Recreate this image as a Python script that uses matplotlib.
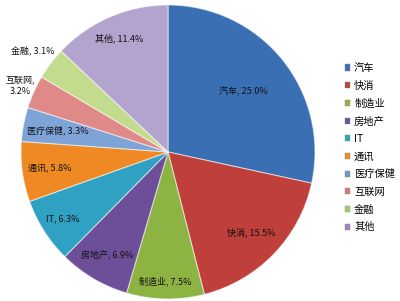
"""
Pie chart of industry shares (Excel-style), with a legend on the right.
"""
import matplotlib
matplotlib.use('Agg')
import matplotlib.pyplot as plt
from matplotlib.patches import Patch
import numpy as np

plt.rcParams['font.family'] = ['Noto Sans CJK SC', 'DejaVu Sans']

categories = ['汽车', '快消', '制造业', '房地产', 'IT', '通讯',
              '医疗保健', '互联网', '金融', '其他']
shares = [25.0, 15.5, 7.5, 6.9, 6.3, 5.8, 3.3, 3.2, 3.1, 11.4]
label_texts = ['汽车, 25.0%', '快消, 15.5%', '制造业, 7.5%', '房地产, 6.9%',
               'IT, 6.3%', '通讯, 5.8%', '医疗保健, 3.3%', '互联网,\n3.2%',
               '金融, 3.1%', '其他, 11.4%']

colours = ['#3a70b3', '#bf3f3b', '#8db343', '#6d4e98', '#2fa2c3', '#ef8924',
           '#7ea3d7', '#df8a88', '#c3db8d', '#b3a3cf']
legend_colours = ['#3b6fb0', '#c0413d', '#8fb544', '#6f4f9a', '#2fa3c4',
                  '#f08a25', '#6f98d0', '#d87a78', '#a8c86e', '#9a86bd']
# radial position of each label (fraction of the radius)
label_radius = [0.66, 0.79, 0.88, 0.81, 0.85, 0.81, 0.76, 1.10, 1.15, 0.84]

fig = plt.figure(figsize=(4.0, 3.01), dpi=100)
ax = fig.add_axes([0.0525, 0.0066, 0.735, 0.977])

wedges, _ = ax.pie(shares, colors=colours, startangle=90, counterclock=False,
                   wedgeprops=dict(edgecolor=(1, 1, 1, 0.55), linewidth=0.8))
ax.set_xlim(-1, 1)
ax.set_ylim(-1, 1)
ax.set_aspect('equal')

for wedge, text, r in zip(wedges, label_texts, label_radius):
    mid = np.deg2rad((wedge.theta1 + wedge.theta2) / 2)
    ax.text(r * np.cos(mid), r * np.sin(mid), text, ha='center', va='center',
            fontsize=6.5, color='#111111', linespacing=1.3)

handles = [Patch(facecolor=c, edgecolor='#8a8a8a', linewidth=0.3)
           for c in legend_colours]
fig.legend(handles, categories, loc='upper left',
           bbox_to_anchor=(0.862, 0.79), frameon=False, fontsize=7.4,
           handlelength=0.55, handleheight=0.55, handletextpad=0.35,
           labelspacing=0.74, borderpad=0, borderaxespad=0)

fig.savefig('out.png', dpi=100)
